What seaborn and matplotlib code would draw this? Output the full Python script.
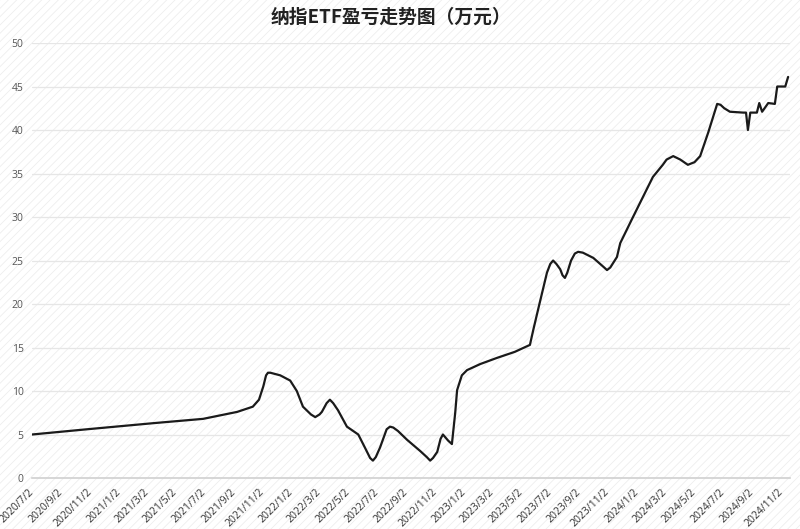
import pandas as pd
import matplotlib
matplotlib.use("Agg")
import matplotlib.pyplot as plt
from matplotlib.patches import Rectangle
import seaborn as sns

# 数据
dates = [
    "2020/7/2", "2020/10/26", "2021/3/15", "2021/6/29", "2021/9/9", "2021/10/12",
    "2021/10/25", "2021/11/3", "2021/11/9", "2021/11/13", "2021/11/18", "2021/12/9",
    "2021/12/30", "2022/1/13", "2022/1/26", "2022/2/12", "2022/2/21", "2022/3/2",
    "2022/3/7", "2022/3/17", "2022/3/24", "2022/3/31", "2022/4/10", "2022/4/29",
    "2022/5/23", "2022/6/6", "2022/6/17", "2022/6/23", "2022/6/29", "2022/7/8",
    "2022/7/22", "2022/7/29", "2022/8/5", "2022/8/15", "2022/9/3", "2022/10/1",
    "2022/10/15", "2022/10/22", "2022/10/28", "2022/11/6", "2022/11/13", "2022/11/18",
    "2022/11/29", "2022/12/7", "2022/12/14", "2022/12/18", "2022/12/28", "2023/1/8",
    "2023/2/5", "2023/3/12", "2023/4/19", "2023/5/21", "2023/5/28", "2023/6/7",
    "2023/6/26", "2023/7/3", "2023/7/9", "2023/7/16", "2023/7/24", "2023/7/29",
    "2023/8/3", "2023/8/8", "2023/8/16", "2023/8/24", "2023/8/31", "2023/9/10",
    "2023/10/2", "2023/10/25", "2023/10/31", "2023/11/7", "2023/11/21", "2023/11/28",
    "2023/12/25", "2024/2/5", "2024/2/26", "2024/3/5", "2024/3/19", "2024/4/3",
    "2024/4/19", "2024/5/3", "2024/5/15", "2024/6/1", "2024/6/20", "2024/6/27",
    "2024/7/5", "2024/7/17", "2024/8/14", "2024/8/20", "2024/8/24", "2024/8/29",
    "2024/9/12", "2024/9/17", "2024/9/23", "2024/10/6", "2024/10/20", "2024/10/25",
    "2024/11/11", "2024/11/17",
]
profit = [
    5.0, 5.6, 6.3, 6.8, 7.6, 8.2,
    9.0, 10.5, 11.8, 12.1, 12.1, 11.8,
    11.2, 10.0, 8.2, 7.3, 7.0, 7.3,
    7.6, 8.6, 9.0, 8.6, 7.8, 5.9,
    5.0, 3.5, 2.3, 2.0, 2.4, 3.5,
    5.6, 5.9, 5.8, 5.4, 4.4, 3.1,
    2.4, 2.0, 2.3, 3.0, 4.5, 5.0,
    4.3, 3.9, 7.5, 10.1, 11.8, 12.4,
    13.1, 13.8, 14.5, 15.3, 17.0, 19.3,
    23.6, 24.6, 25.0, 24.6, 24.0, 23.3,
    23.0, 23.6, 25.0, 25.8, 26.0, 25.9,
    25.3, 24.2, 23.9, 24.2, 25.4, 27.0,
    30.0, 34.6, 36.0, 36.6, 37.0, 36.6,
    36.0, 36.3, 37.0, 39.7, 43.0, 42.9,
    42.5, 42.1, 42.0, 42.0, 40.0, 42.0,
    42.0, 43.1, 42.1, 43.1, 43.0, 45.0,
    45.0, 46.1,
]
tick_labels = [
    "2020/7/2", "2020/9/2", "2020/11/2", "2021/1/2", "2021/3/2", "2021/5/2",
    "2021/7/2", "2021/9/2", "2021/11/2", "2022/1/2", "2022/3/2", "2022/5/2",
    "2022/7/2", "2022/9/2", "2022/11/2", "2023/1/2", "2023/3/2", "2023/5/2",
    "2023/7/2", "2023/9/2", "2023/11/2", "2024/1/2", "2024/3/2", "2024/5/2",
    "2024/7/2", "2024/9/2", "2024/11/2",
]
y_ticks = [0, 5, 10, 15, 20, 25, 30, 35, 40, 45, 50]
title = "纳指ETF盈亏走势图（万元）"

df = pd.DataFrame({"date": pd.to_datetime(dates, format="%Y/%m/%d"), "value": profit})
tick_dates = pd.to_datetime(tick_labels, format="%Y/%m/%d")

sns.set_theme(style="white")
plt.rcParams["font.family"] = ["Open Sans", "Noto Sans CJK SC", "DejaVu Sans"]
plt.rcParams["hatch.linewidth"] = 0.6

fig = plt.figure(figsize=(8, 5.29), dpi=100)
fig.patch.set_facecolor("white")

# 背景的淡斜纹
bg = Rectangle((0, 0), 1, 1, transform=fig.transFigure, facecolor="white",
               edgecolor="#eeeeee", hatch="////", linewidth=0, zorder=-10)
fig.add_artist(bg)

ax = fig.add_axes([0.04, 0.0964, 0.9475, 0.8223])
ax.set_facecolor("none")

sns.lineplot(data=df, x="date", y="value", color="#1a1a1a", linewidth=1.6, ax=ax)

ax.set_ylim(0, 50)
ax.set_xlim(tick_dates[0], pd.Timestamp("2024-11-21"))
ax.set_yticks(y_ticks)
ax.set_yticklabels([str(v) for v in y_ticks], fontsize=7.5, color="#555555")
ax.set_xticks(tick_dates)
ax.set_xticklabels(tick_labels, fontsize=7.5, color="#333333", rotation=45,
                   ha="right", va="center", rotation_mode="anchor")
ax.tick_params(axis="x", length=0, pad=9)
ax.tick_params(axis="y", length=0, pad=6)
ax.grid(axis="y", color="#e6e6e6", linewidth=0.9)
ax.grid(axis="x", visible=False)
for side in ["top", "right", "left"]:
    ax.spines[side].set_visible(False)
ax.spines["bottom"].set_color("#d0d0d0")
ax.spines["bottom"].set_linewidth(1.2)
ax.set_xlabel("")
ax.set_ylabel("")

fig.text(391 / 800, 1 - 17 / 529, title, ha="center", va="center",
         fontsize=13.5, fontweight="bold", style="italic", color="#222222",
         family=["Noto Sans CJK SC", "DejaVu Sans"])

fig.savefig("out.png", dpi=100)
